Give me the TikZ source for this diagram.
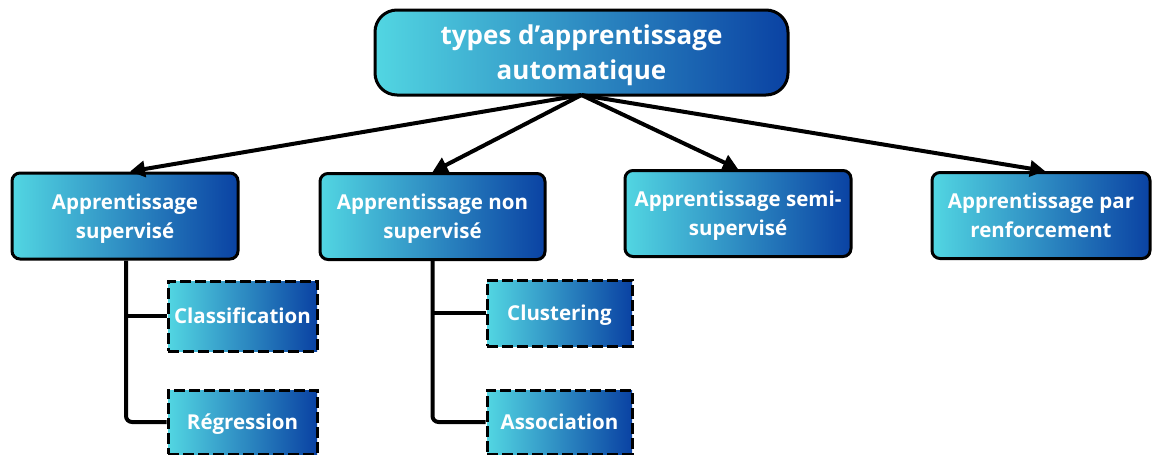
\documentclass[tikz,border=0pt]{standalone}
\usepackage{fontspec}
\setmainfont{Open Sans}
\usetikzlibrary{arrows.meta}
\definecolor{gradL}{HTML}{52D6E2}
\definecolor{gradR}{HTML}{0A42A3}
\tikzset{
  gbox/.style={draw=black, line width=3pt, left color=gradL, right color=gradR,
    text=white, font=\bfseries\fontsize{20.5}{29}\selectfont, align=center,
    inner sep=0pt, text depth=0pt},
  headbox/.style={gbox, rounded corners=22pt, minimum width=413pt, minimum height=85pt,
    font=\bfseries\fontsize{26}{35}\selectfont},
  mainbox/.style={gbox, rounded corners=8pt, minimum height=86pt},
  subbox/.style={gbox, line width=3pt, dash pattern=on 11pt off 4pt, rounded corners=0pt},
  branch/.style={draw=black, line width=4pt, -{Triangle[length=15pt,width=16pt]}},
  tree/.style={draw=black, line width=4pt, rounded corners=6pt}
}
\begin{document}
\begin{tikzpicture}[x=1pt,y=1pt]
\useasboundingbox (0,0) rectangle (1152,-455);

% root
\node[headbox] (root) at (581.5,-52.5) {types d’apprentissage\\automatique};

% four families
\node[mainbox, minimum width=226pt] (sup) at (125,-216) {Apprentissage\\supervisé};
\node[mainbox, minimum width=225pt] (nsup) at (432.5,-216.5) {Apprentissage non\\supervisé};
\node[mainbox, minimum width=226pt] (semi) at (738,-213.5) {Apprentissage semi-\\supervisé};
\node[mainbox, minimum width=218pt] (renf) at (1041,-215.5) {Apprentissage par\\renforcement};

% sub-tasks
\node[subbox, minimum width=149pt, minimum height=70pt] (cls) at (242.5,-316) {Classification};
\node[subbox, minimum width=149pt, minimum height=64pt] (reg) at (242.5,-422) {Régression};
\node[subbox, minimum width=145pt, minimum height=66pt] (clu) at (559.5,-313) {Clustering};
\node[subbox, minimum width=145pt, minimum height=64pt] (ass) at (559.5,-422) {Association};

% arrows from the root
\coordinate (hub) at ([yshift=1.5pt]root.south);
\draw[branch] (hub) -- ([xshift=5pt]sup.north);
\draw[branch] (hub) -- (nsup.north);
\draw[branch] (hub) -- (semi.north);
\draw[branch] (hub) -- ([xshift=4pt]renf.north);

% tree connectors
\draw[tree] ([xshift=1pt]sup.south) |- (reg.west);
\draw[tree] ([xshift=1pt]sup.south |- cls.west) -- (cls.west);
\draw[tree] (nsup.south) |- (ass.west);
\draw[tree] (nsup.south |- clu.west) -- (clu.west);
\end{tikzpicture}
\end{document}
